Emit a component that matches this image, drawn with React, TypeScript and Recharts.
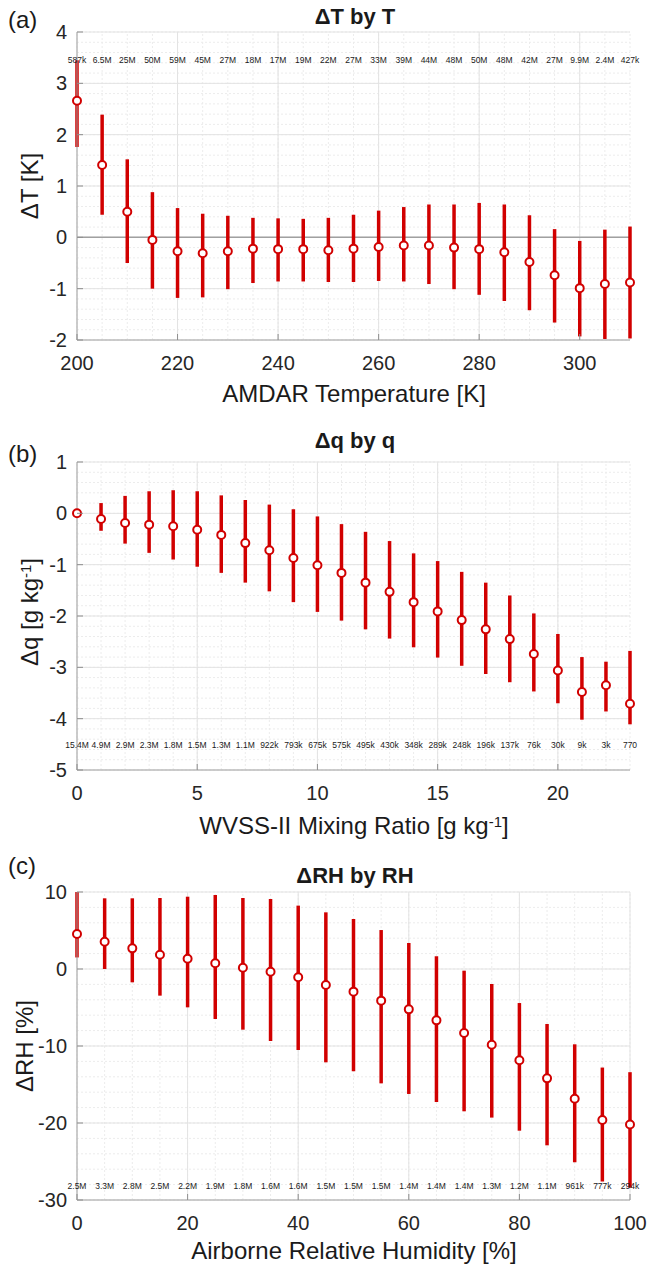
import React from 'react';
import { ComposedChart, Scatter, ErrorBar, XAxis, YAxis, ReferenceLine } from 'recharts';

const RED = '#d10000';
const FONT = '"Liberation Sans", Arial, Helvetica, sans-serif';

// ---------- Panel (a): dT by T ----------
const tempBins = [200, 205, 210, 215, 220, 225, 230, 235, 240, 245, 250, 255, 260, 265, 270, 275, 280, 285, 290, 295, 300, 305, 310];
const dTMean = [2.66, 1.41, 0.5, -0.05, -0.27, -0.31, -0.27, -0.22, -0.23, -0.23, -0.25, -0.22, -0.19, -0.16, -0.16, -0.2, -0.23, -0.29, -0.48, -0.74, -0.99, -0.91, -0.88];
const dTLow = [1.76, 0.44, -0.5, -1.0, -1.18, -1.17, -1.01, -0.89, -0.86, -0.86, -0.87, -0.87, -0.85, -0.86, -0.91, -1.01, -1.12, -1.24, -1.42, -1.66, -1.93, -1.98, -1.97];
const dTHigh = [3.45, 2.39, 1.52, 0.88, 0.57, 0.46, 0.42, 0.38, 0.37, 0.36, 0.38, 0.44, 0.52, 0.59, 0.64, 0.64, 0.67, 0.64, 0.43, 0.16, -0.07, 0.15, 0.21];
const tempCounts = ['587k', '6.5M', '25M', '50M', '59M', '45M', '27M', '18M', '17M', '19M', '22M', '27M', '33M', '39M', '44M', '48M', '50M', '48M', '42M', '27M', '9.9M', '2.4M', '427k'];
const tempXTicks = [200, 220, 240, 260, 280, 300];
const dTYTicks = [-2, -1, 0, 1, 2, 3, 4];

// ---------- Panel (b): dq by q ----------
const qBins = [0, 1, 2, 3, 4, 5, 6, 7, 8, 9, 10, 11, 12, 13, 14, 15, 16, 17, 18, 19, 20, 21, 22, 23];
const dqMean = [0.0, -0.11, -0.19, -0.22, -0.25, -0.32, -0.42, -0.58, -0.72, -0.87, -1.01, -1.16, -1.35, -1.53, -1.73, -1.91, -2.08, -2.26, -2.45, -2.74, -3.06, -3.48, -3.35, -3.71];
const dqLow = [0.0, -0.34, -0.59, -0.77, -0.9, -1.04, -1.16, -1.35, -1.52, -1.73, -1.92, -2.09, -2.26, -2.44, -2.61, -2.81, -2.97, -3.13, -3.29, -3.47, -3.7, -4.02, -3.86, -4.11];
const dqHigh = [0.0, 0.2, 0.34, 0.43, 0.45, 0.43, 0.35, 0.26, 0.17, 0.08, -0.06, -0.21, -0.36, -0.54, -0.78, -0.93, -1.14, -1.35, -1.6, -1.95, -2.35, -2.8, -2.89, -2.68];
const qCounts = ['15.4M', '4.9M', '2.9M', '2.3M', '1.8M', '1.5M', '1.3M', '1.1M', '922k', '793k', '675k', '575k', '495k', '430k', '348k', '289k', '248k', '196k', '137k', '76k', '30k', '9k', '3k', '770'];
const qXTicks = [0, 5, 10, 15, 20];
const dqYTicks = [-5, -4, -3, -2, -1, 0, 1];

// ---------- Panel (c): dRH by RH ----------
const rhBins = [0, 5, 10, 15, 20, 25, 30, 35, 40, 45, 50, 55, 60, 65, 70, 75, 80, 85, 90, 95, 100];
const dRHMean = [4.55, 3.55, 2.68, 1.86, 1.34, 0.74, 0.17, -0.35, -1.08, -2.08, -2.94, -4.11, -5.24, -6.67, -8.31, -9.83, -11.86, -14.2, -16.84, -19.6, -20.2];
const dRHLow = [1.5, 0.0, -1.73, -3.46, -4.98, -6.49, -7.88, -9.35, -10.52, -12.12, -13.29, -14.85, -16.23, -17.27, -18.48, -19.3, -21.0, -22.9, -25.1, -27.6, -28.4];
const dRHHigh = [10.0, 9.18, 9.18, 9.22, 9.39, 9.61, 9.22, 9.09, 8.23, 7.36, 6.49, 5.06, 3.38, 1.65, -0.22, -1.95, -4.42, -7.14, -9.78, -12.8, -13.4];
const rhCounts = ['2.5M', '3.3M', '2.8M', '2.5M', '2.2M', '1.9M', '1.8M', '1.6M', '1.6M', '1.5M', '1.5M', '1.5M', '1.4M', '1.4M', '1.4M', '1.3M', '1.2M', '1.1M', '961k', '777k', '294k'];
const rhXTicks = [0, 20, 40, 60, 80, 100];
const dRHYTicks = [-30, -20, -10, 0, 10];

const steps = (a: number, b: number, s: number) => {
  const out: number[] = [];
  const n = Math.round((b - a) / s);
  for (let i = 0; i <= n; i++) out.push(+(a + i * s).toFixed(6));
  return out;
};

const XTick = (props: any) => {
  const { x, y, payload } = props;
  return (
    <g>
      <line x1={x} x2={x} y1={y} y2={y - 6} stroke="#8f8f8f" strokeWidth={1} />
      <text x={x} y={y + 23} textAnchor="middle" dominantBaseline="central" fontSize={20} fontFamily={FONT} fill="#262626">
        {payload.value}
      </text>
    </g>
  );
};

const YTick = (props: any) => {
  const { x, y, payload } = props;
  return (
    <g>
      <line x1={x} x2={x + 6} y1={y} y2={y} stroke="#8f8f8f" strokeWidth={1} />
      <text x={x - 10} y={y} textAnchor="end" dominantBaseline="central" fontSize={20} fontFamily={FONT} fill="#262626">
        {payload.value}
      </text>
    </g>
  );
};

const PointShape = (p: any) => (
  <circle cx={p.cx} cy={p.cy} r={4} fill="#ffffff" stroke={RED} strokeWidth={2} />
);

const CountShape = (p: any) => (
  <text x={p.cx} y={p.cy} textAnchor="middle" dominantBaseline="central" fontSize={8.5} fontFamily={FONT} fill="#1a1a1a">
    {p.payload.label}
  </text>
);

type PanelProps = {
  top: number;
  bins: number[];
  mean: number[];
  low: number[];
  high: number[];
  counts: string[];
  countY: number;
  xDomain: [number, number];
  yDomain: [number, number];
  xTicks: number[];
  yTicks: number[];
  xMinor: number[];
  yMinor: number[];
  zeroLine?: boolean;
};

const Panel = (pp: PanelProps) => {
  const data = pp.bins.map((x, i) => ({
    x,
    y: pp.mean[i],
    err: [pp.mean[i] - pp.low[i], pp.high[i] - pp.mean[i]],
  }));
  const countData = pp.bins.map((x, i) => ({ x, y: pp.countY, label: pp.counts[i] }));
  return (
    <div style={{ position: 'absolute', left: 0, top: pp.top, width: 651, height: 380 }}>
      <ComposedChart width={651} height={380} margin={{ top: 10, right: 21, bottom: 2, left: 0 }}>
        <XAxis
          type="number"
          dataKey="x"
          domain={pp.xDomain}
          ticks={pp.xTicks}
          height={60}
          tickSize={0}
          tickMargin={0}
          tickLine={false}
          tick={<XTick />}
          axisLine={{ stroke: '#a6a6a6', strokeWidth: 1 }}
          interval={0}
        />
        <YAxis
          type="number"
          dataKey="y"
          domain={pp.yDomain}
          ticks={pp.yTicks}
          width={77}
          tickSize={0}
          tickMargin={0}
          tickLine={false}
          tick={<YTick />}
          axisLine={{ stroke: '#a6a6a6', strokeWidth: 1 }}
          interval={0}
        />
        {pp.xMinor.map((v) => (
          <ReferenceLine key={'xm' + v} x={v} stroke="#ececec" strokeWidth={1} strokeDasharray="2 2" />
        ))}
        {pp.yMinor.map((v) => (
          <ReferenceLine key={'ym' + v} y={v} stroke="#ececec" strokeWidth={1} strokeDasharray="2 2" />
        ))}
        {pp.xTicks.map((v) => (
          <ReferenceLine key={'xM' + v} x={v} stroke="#e3e3e3" strokeWidth={1} />
        ))}
        {pp.yTicks.map((v) => (
          <ReferenceLine key={'yM' + v} y={v} stroke="#e3e3e3" strokeWidth={1} />
        ))}
        {pp.zeroLine && <ReferenceLine y={0} stroke="#a0a0a0" strokeWidth={1.5} />}
        <Scatter data={countData} dataKey="y" shape={CountShape} isAnimationActive={false} />
        <Scatter data={data} dataKey="y" shape={PointShape} isAnimationActive={false}>
          <ErrorBar dataKey="err" direction="y" width={0} strokeWidth={3.5} stroke={RED} />
        </Scatter>
      </ComposedChart>
    </div>
  );
};

const abs = (extra: React.CSSProperties): React.CSSProperties => ({
  position: 'absolute',
  fontFamily: FONT,
  color: '#1a1a1a',
  whiteSpace: 'nowrap',
  lineHeight: 1,
  ...extra,
});

const Centered = ({ x, y, size, bold, rotate, children }: any) => (
  <div
    style={abs({
      left: x,
      top: y,
      fontSize: size,
      fontWeight: bold ? 'bold' : 'normal',
      transform: `translate(-50%, -50%)${rotate ? ' rotate(-90deg)' : ''}`,
    })}
  >
    {children}
  </div>
);

const SUP: React.CSSProperties = { fontSize: 15, verticalAlign: '0.45em', lineHeight: 0 };

export default function App() {
  return (
    <div style={{ position: 'absolute', left: 0, top: 0, width: 651, height: 1267, background: '#ffffff', overflow: 'hidden' }}>
      <Panel
        top={22}
        bins={tempBins}
        mean={dTMean}
        low={dTLow}
        high={dTHigh}
        counts={tempCounts}
        countY={3.45}
        xDomain={[200, 310]}
        yDomain={[-2, 4]}
        xTicks={tempXTicks}
        yTicks={dTYTicks}
        xMinor={steps(200, 310, 5)}
        yMinor={steps(-2, 4, 0.2)}
        zeroLine
      />
      <Panel
        top={452}
        bins={qBins}
        mean={dqMean}
        low={dqLow}
        high={dqHigh}
        counts={qCounts}
        countY={-4.52}
        xDomain={[0, 23]}
        yDomain={[-5, 1]}
        xTicks={qXTicks}
        yTicks={dqYTicks}
        xMinor={steps(0, 23, 1)}
        yMinor={steps(-5, 1, 0.2)}
      />
      <Panel
        top={882}
        bins={rhBins}
        mean={dRHMean}
        low={dRHLow}
        high={dRHHigh}
        counts={rhCounts}
        countY={-28.2}
        xDomain={[0, 100]}
        yDomain={[-30, 10]}
        xTicks={rhXTicks}
        yTicks={dRHYTicks}
        xMinor={steps(0, 100, 5)}
        yMinor={steps(-30, 10, 2)}
      />

      {/* panel letters */}
      <div style={abs({ left: 8, top: 8, fontSize: 24 })}>(a)</div>
      <div style={abs({ left: 8, top: 442, fontSize: 24 })}>(b)</div>
      <div style={abs({ left: 8, top: 854, fontSize: 24 })}>(c)</div>

      {/* titles */}
      <Centered x={355} y={17} size={22} bold>ΔT by T</Centered>
      <Centered x={355} y={441} size={22} bold>Δq by q</Centered>
      <Centered x={355} y={876} size={22} bold>ΔRH by RH</Centered>

      {/* axis labels */}
      <Centered x={354} y={394} size={24}>AMDAR Temperature [K]</Centered>
      <Centered x={354} y={826} size={24}>
        WVSS-II Mixing Ratio [g kg<span style={SUP}>-1</span>]
      </Centered>
      <Centered x={354} y={1251} size={24}>Airborne Relative Humidity [%]</Centered>

      <Centered x={30} y={186} size={24} rotate>ΔT [K]</Centered>
      <Centered x={30} y={612} size={24} rotate>
        Δq [g kg<span style={SUP}>-1</span>]
      </Centered>
      <Centered x={25} y={1046} size={24} rotate>ΔRH [%]</Centered>
    </div>
  );
}
